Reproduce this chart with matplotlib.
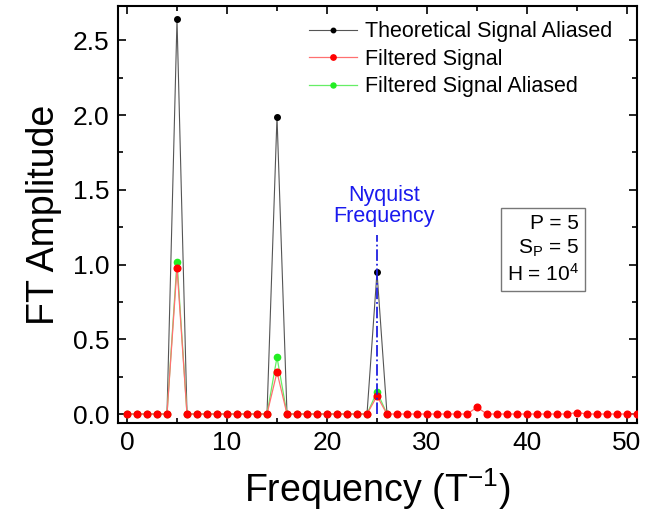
import numpy as np
import matplotlib.pyplot as plt
from matplotlib.ticker import MultipleLocator

plt.rcParams['font.family'] = 'Liberation Sans'
plt.rcParams['mathtext.fontset'] = 'custom'
plt.rcParams['mathtext.rm'] = 'Liberation Sans'
plt.rcParams['mathtext.it'] = 'Liberation Sans'

# FT amplitudes, one value per integer frequency ---------------------------------------------
freq = np.arange(0, 52)

theory_peaks = {5: 2.64, 15: 1.99, 25: 0.95}           # theoretical signal aliased
filt_peaks = {5: 0.98, 15: 0.28, 25: 0.12, 35: 0.045, 45: 0.01}  # filtered signal
filt_alias_peaks = {5: 1.02, 15: 0.38, 25: 0.15}       # filtered signal aliased

nyquist = 25

filt = np.array([filt_peaks.get(f, 0.0) for f in freq])
# aliased spectra only run up to just past the Nyquist frequency
freq_alias = freq[freq <= nyquist + 1]
theory = np.array([theory_peaks.get(f, 0.0) for f in freq_alias])
filt_alias = np.array([filt_alias_peaks.get(f, 0.0) for f in freq_alias])

# Plot ----------------------------------------------------------------------------------------
fig = plt.figure(figsize=(6.55, 5.21), dpi=100)
ax = fig.add_axes([118/655, 1-423/521, (637-118)/655, (423-6)/521])

ax.plot(freq_alias, theory, color='#555555', lw=0.8, marker='o', ms=4,
        mfc='black', mec='black', label='Theoretical Signal Aliased', zorder=2)
ax.plot(freq_alias, filt_alias, color='#66ee66', lw=0.9, marker='o', ms=4.5,
        mfc='#22ee22', mec='#22ee22', label='Filtered Signal Aliased', zorder=3)
ax.plot(freq, filt, color='#ff7070', lw=0.9, marker='o', ms=4.8,
        mfc='#ff0000', mec='#ff0000', label='Filtered Signal', zorder=4)

# Nyquist marker
ax.plot([nyquist, nyquist], [0, 1.20], color='#2020e0', lw=1.3, ls='-.', zorder=5)
ax.text(nyquist + 0.7, 1.39, 'Nyquist\nFrequency', color='#1a1aee', fontsize=15.5,
        ha='center', va='center', linespacing=1.0)

# parameter box
ax.text(45.2, 1.10, 'P = 5\nS$_\\mathrm{P}$ = 5\nH = 10$^4$', fontsize=15,
        ha='right', va='center', linespacing=1.25,
        bbox=dict(boxstyle='square,pad=0.3', fc='white', ec='#777777', lw=1))

ax.set_xlim(-0.9, 51)
ax.set_ylim(-0.06, 2.73)
ax.xaxis.set_major_locator(MultipleLocator(10))
ax.xaxis.set_minor_locator(MultipleLocator(5))
ax.yaxis.set_major_locator(MultipleLocator(0.5))
ax.yaxis.set_minor_locator(MultipleLocator(0.25))
ax.yaxis.set_major_formatter(plt.FormatStrFormatter('%.1f'))
ax.tick_params(which='both', direction='in', top=True, right=True, width=1.2,
               labelsize=19, pad=6)
ax.tick_params(which='major', length=6)
ax.tick_params(which='minor', length=3.5)
ax.tick_params(axis='x', which='both', labeltop=False)
ax.tick_params(axis='y', which='both', labelright=False)
for sp in ax.spines.values():
    sp.set_linewidth(1.5)

ax.set_xlabel('Frequency (T$^{-1}$)', fontsize=27, labelpad=8)
ax.set_ylabel('FT Amplitude', fontsize=27, labelpad=8)

handles, labels = ax.get_legend_handles_labels()
order = [0, 2, 1]
ax.legend([handles[i] for i in order], [labels[i] for i in order],
          loc='upper right', bbox_to_anchor=(0.99, 1.01), frameon=False,
          fontsize=15.5, handlelength=2.2, handletextpad=0.4, labelspacing=0.3,
          markerscale=0.8)

fig.savefig('out.png', dpi=100, facecolor='white')
